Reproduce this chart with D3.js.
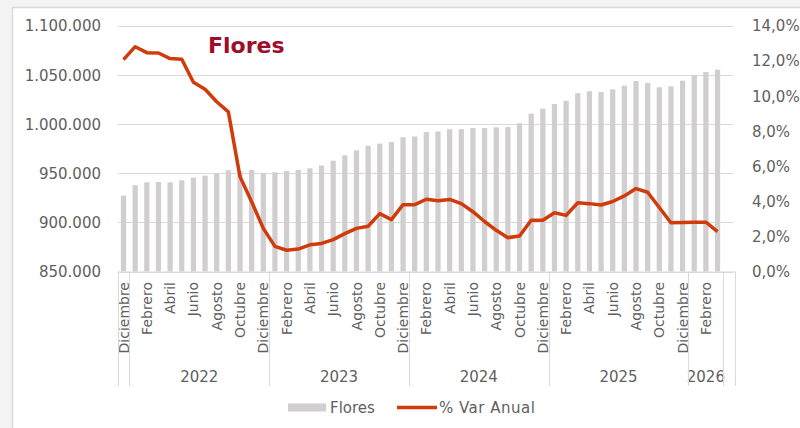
<!DOCTYPE html>
<html>
<head>
<meta charset="utf-8">
<script src="https://cdn.jsdelivr.net/npm/d3@7"></script>
<style>
  html, body { margin: 0; padding: 0; background: #f3f3f3; }
  svg { display: block; }
  text { font-family: "DejaVu Sans", sans-serif; }
</style>
</head>
<body>
<svg id="chart" width="800" height="428"></svg>
<script>
// ---- data ----
const categories = [
  "Diciembre",
  "Enero","Febrero","Marzo","Abril","Mayo","Junio","Julio","Agosto","Septiembre","Octubre","Noviembre","Diciembre",
  "Enero","Febrero","Marzo","Abril","Mayo","Junio","Julio","Agosto","Septiembre","Octubre","Noviembre","Diciembre",
  "Enero","Febrero","Marzo","Abril","Mayo","Junio","Julio","Agosto","Septiembre","Octubre","Noviembre","Diciembre",
  "Enero","Febrero","Marzo","Abril","Mayo","Junio","Julio","Agosto","Septiembre","Octubre","Noviembre","Diciembre",
  "Enero","Febrero","Marzo",
  ""
];
const yearGroups = ["", "2022", "2023", "2024", "2025", "2026", ""];
const yearGroupSizes = [1, 12, 12, 12, 12, 3, 1];

const flores = [
  927200,
  937800, 940800, 941100, 940800, 942900, 945500, 947600, 949600, 953100, 952000, 953400, 950300,
  951000, 952300, 953400, 955100, 957900, 962800, 968300, 973400, 978000, 980300, 981900, 986700,
  987500, 992000, 992600, 994800, 994900, 996100, 996100, 996800, 997100, 1000900, 1010700, 1015800,
  1020600, 1023900, 1031600, 1033500, 1032800, 1035500, 1039200, 1044000, 1042000, 1037600, 1038600, 1044300,
  1049800, 1053200, 1055500
];
const varAnual = [
  0.1208,
  0.1282, 0.1248, 0.1246, 0.1214, 0.1210, 0.1079, 0.1039, 0.0968, 0.0910, 0.0541, 0.0398, 0.0246,
  0.0143, 0.0121, 0.0128, 0.0152, 0.0160, 0.0182, 0.0216, 0.0246, 0.0258, 0.0330, 0.0296, 0.0381,
  0.0381, 0.0412, 0.0404, 0.0411, 0.0387, 0.0341, 0.0285, 0.0235, 0.0193, 0.0202, 0.0292, 0.0292,
  0.0335, 0.0320, 0.0392, 0.0387, 0.0379, 0.0399, 0.0431, 0.0473, 0.0452, 0.0365, 0.0278, 0.0280,
  0.0281, 0.0281, 0.0228
];
const leftTicks = [850000, 900000, 950000, 1000000, 1050000, 1100000];
const rightTicks = [0, 0.02, 0.04, 0.06, 0.08, 0.10, 0.12, 0.14];

// ---- layout ----
const svg = d3.select("#chart");
const L = 117.7, R = 735, T = 26, B = 271.5;
const es = d3.formatLocale({decimal: ",", thousands: ".", grouping: [3], currency: ["", "€"]});
const fmtL = es.format(",.0f");
const fmtR = es.format(".1%");
const textCol = "#5f5f5f";

// inner white panel with border
svg.append("rect").attr("x", 12.5).attr("y", 7.5).attr("width", 800).attr("height", 430)
  .attr("fill", "#ffffff").attr("stroke", "#d9d9d9").attr("stroke-width", 1.5);

const x = d3.scaleBand().domain(d3.range(categories.length)).range([L, R])
  .paddingInner(0.55).paddingOuter(0.275);
const yL = d3.scaleLinear().domain([850000, 1100000]).range([B, T]);
const yR = d3.scaleLinear().domain([0, 0.14]).range([B, T]);

// gridlines
svg.append("g").selectAll("line").data(leftTicks).join("line")
  .attr("x1", L).attr("x2", R - 2)
  .attr("y1", d => Math.round(yL(d)) + 0.5).attr("y2", d => Math.round(yL(d)) + 0.5)
  .attr("stroke", "#d9d9d9").attr("stroke-width", 1);

// left axis labels
svg.append("g").selectAll("text").data(leftTicks).join("text")
  .attr("x", 101).attr("y", d => yL(d)).attr("dy", "0.36em")
  .attr("text-anchor", "end").attr("font-size", 15).attr("fill", textCol)
  .text(d => fmtL(d));

// right axis labels
svg.append("g").selectAll("text").data(rightTicks).join("text")
  .attr("x", 752).attr("y", d => yR(d)).attr("dy", "0.36em")
  .attr("text-anchor", "start").attr("font-size", 15).attr("fill", textCol)
  .text(d => fmtR(d));

// bars
svg.append("g").selectAll("rect").data(flores).join("rect")
  .attr("x", (d, i) => x(i)).attr("width", x.bandwidth())
  .attr("y", d => yL(d)).attr("height", d => B - yL(d))
  .attr("fill", "#d0cece");

// line
const line = d3.line().x((d, i) => x(i) + x.bandwidth() / 2).y(d => yR(d));
svg.append("path").datum(varAnual).attr("d", line)
  .attr("fill", "none").attr("stroke", "#d13b0c").attr("stroke-width", 3.5)
  .attr("stroke-linejoin", "round").attr("stroke-linecap", "butt");

// category axis
svg.append("line").attr("x1", L).attr("x2", R).attr("y1", B + 0.5).attr("y2", B + 0.5)
  .attr("stroke", "#d9d9d9");

const catG = svg.append("g");
categories.forEach((c, i) => {
  if (i % 2 !== 0 || c === "") return;
  const cx = x(i) + x.bandwidth() / 2;
  catG.append("text")
    .attr("transform", `translate(${cx},282) rotate(-90)`)
    .attr("dy", "0.36em").attr("text-anchor", "end")
    .attr("font-size", 14).attr("fill", textCol).text(c);
});

// year groups
const step = x.step();
let start = 0;
const sepX = [L];
const yrG = svg.append("g");
yearGroups.forEach((yg, k) => {
  const n = yearGroupSizes[k];
  const x0 = L + start * step, x1 = L + (start + n) * step;
  if (yg) {
    yrG.append("text").attr("x", (x0 + x1) / 2).attr("y", 377).attr("dy", "0.36em")
      .attr("text-anchor", "middle").attr("font-size", 15).attr("fill", textCol).text(yg);
  }
  sepX.push(x1);
  start += n;
});
svg.append("g").selectAll("line").data(sepX).join("line")
  .attr("x1", d => Math.round(d) + 0.5).attr("x2", d => Math.round(d) + 0.5)
  .attr("y1", B).attr("y2", 386)
  .attr("stroke", "#d9d9d9");

// title
svg.append("text").attr("x", 208).attr("y", 53)
  .attr("font-family", "'Open Sans', sans-serif").attr("font-weight", "bold")
  .attr("font-size", 22).attr("fill", "#a00d2c").text("Flores");

// legend
svg.append("rect").attr("x", 288).attr("y", 403.5).attr("width", 38).attr("height", 8)
  .attr("fill", "#d0cece");
svg.append("text").attr("x", 330).attr("y", 407.5).attr("dy", "0.36em")
  .attr("font-size", 15).attr("fill", textCol).text("Flores");
svg.append("line").attr("x1", 397).attr("x2", 437).attr("y1", 407.5).attr("y2", 407.5)
  .attr("stroke", "#d13b0c").attr("stroke-width", 3.5);
svg.append("text").attr("x", 439).attr("y", 407.5).attr("dy", "0.36em")
  .attr("font-size", 15).attr("fill", textCol).attr("letter-spacing", 0.5).text("% Var Anual");
</script>
</body>
</html>
